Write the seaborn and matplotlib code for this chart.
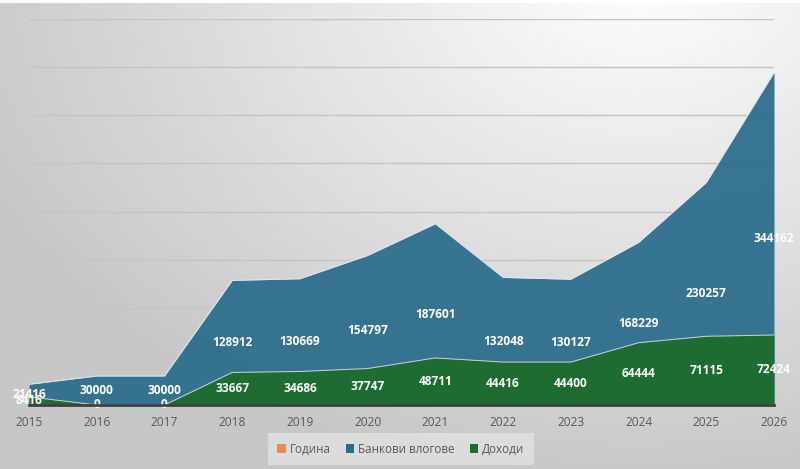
import numpy as np
import matplotlib
matplotlib.use("Agg")
import matplotlib.pyplot as plt
import seaborn as sns
from matplotlib.patches import Patch, Rectangle

# --- data ---
years = [2015, 2016, 2017, 2018, 2019, 2020, 2021, 2022, 2023, 2024, 2025, 2026]
deposits = [21416, 30000, 30000, 128912, 130669, 154797, 187601, 132048, 130127, 168229, 230257, 344162]
income = [8416, 0, 0, 33667, 34686, 37747, 48711, 44416, 44400, 64444, 71115, 72424]
series_names = ["Година", "Банкови влогове", "Доходи"]

blue = "#2a6c8b"
green = "#1e6c32"
orange = "#f08a4b"

sns.set_theme(style="white")
plt.rcParams["font.family"] = ["Open Sans", "DejaVu Sans"]

fig = plt.figure(figsize=(8, 4.69), dpi=100)

# gradient background (light in the upper right, darker towards the edges)
bg = fig.add_axes([0, 0, 1, 1], zorder=-10)
gx, gy = np.meshgrid(np.linspace(0, 1, 400), np.linspace(1, 0, 240))
dist = np.sqrt(((gx - 0.8) * 1.1) ** 2 + ((gy - 1.05) * 0.9) ** 2)
shade = np.clip(0.995 - 0.22 * dist, 0.78, 1.0)
bg.imshow(shade, cmap="gray", vmin=0, vmax=1, aspect="auto", extent=[0, 1, 0, 1])
bg.axis("off")
fig.patches.append(Rectangle((0, 0.993), 1, 0.007, transform=fig.transFigure,
                             facecolor="white", edgecolor="none", zorder=-5))

ax = fig.add_axes([0.0363, 0.1365, 0.9312, 0.824])
ax.patch.set_alpha(0)

# overlapping (not stacked) areas, green in front of blue
ax.fill_between(years, deposits, color=blue, alpha=0.93, zorder=2, linewidth=0)
sns.lineplot(x=years, y=deposits, ax=ax, color="#dfe8ee", linewidth=0.7, zorder=3)
ax.fill_between(years, income, color=green, zorder=4, linewidth=0)
sns.lineplot(x=years, y=income, ax=ax, color="#c9d6cc", linewidth=0.7, zorder=5)

lbl = dict(ha="center", va="center", color="white", fontsize=8.6, fontweight="bold")
for x, v in zip(years, deposits):
    ax.text(x, v / 2, str(v), zorder=6, **lbl)
for x, v in zip(years, income):
    ax.text(x, v / 2, str(v), zorder=7, **lbl)

ax.set_xlim(2015, 2026)
ax.set_ylim(0, 400000)
ax.set_yticks(np.arange(0, 400001, 50000))
ax.set_yticklabels([])
ax.yaxis.grid(True, color="#c4c4c4", linewidth=1.0, zorder=0)
ax.set_axisbelow(True)
ax.set_xticks(years)
ax.set_xticklabels([str(y) for y in years], color="#595959", fontsize=8.6)
ax.tick_params(axis="x", length=0, pad=8)
ax.tick_params(axis="y", length=0)
for side in ["left", "right", "top"]:
    ax.spines[side].set_visible(False)
ax.spines["bottom"].set_color("#404040")
ax.spines["bottom"].set_linewidth(2)
ax.spines["bottom"].set_zorder(8)
ax.set_xlabel("")
ax.set_ylabel("")

handles = [Patch(facecolor=c, edgecolor="none") for c in [orange, blue, green]]
leg = fig.legend(handles, series_names, loc="center", bbox_to_anchor=(0.501, 0.0426),
                 ncol=3, frameon=True, fontsize=8.4, handlelength=0.7, handleheight=0.7,
                 handletextpad=0.35, columnspacing=1.3, borderpad=0.6)
leg.get_frame().set_facecolor("#e2e2e2")
leg.get_frame().set_edgecolor("none")
leg.get_frame().set_boxstyle("square", pad=0.2)
for t in leg.get_texts():
    t.set_color("#595959")

fig.savefig("out.png", dpi=100)
